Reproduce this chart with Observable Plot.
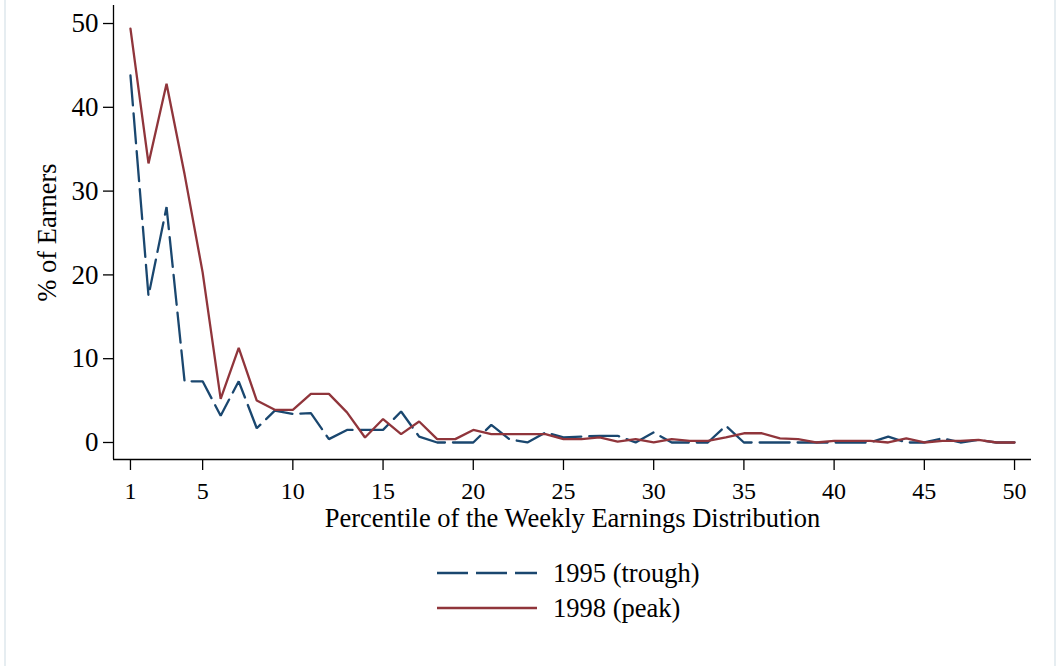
<!DOCTYPE html>
<html>
<head>
<meta charset="utf-8">
<script src="https://cdn.jsdelivr.net/npm/d3@7"></script>
<script src="https://cdn.jsdelivr.net/npm/@observablehq/plot@0.6"></script>
<style>
  html, body { margin: 0; padding: 0; background: #fff; }
  #wrap { position: relative; width: 1061px; height: 666px; overflow: hidden; background: #fff;
          font-family: "Liberation Serif", "Times New Roman", serif; color: #000; }
  #wrap svg.plot { position: absolute; left: 0; top: 0; }
  .edge { position: absolute; top: 0; bottom: 0; width: 2px; background: #e6edf1; }
  .leg { position: absolute; left: 437px; height: 30px; display: flex; align-items: center; }
  .leg span { margin-left: 16px; font-size: 26.5px; line-height: 30px; white-space: nowrap; }
</style>
</head>
<body>
<div id="wrap">
  <div class="edge" style="left:4px"></div>
  <div class="edge" style="left:1054px"></div>
</div>
<script>
// ---- data ----
const percentiles = [1,2,3,4,5,6,7,8,9,10,11,12,13,14,15,16,17,18,19,20,21,22,23,24,25,
                     26,27,28,29,30,31,32,33,34,35,36,37,38,39,40,41,42,43,44,45,46,47,48,49,50];
const trough1995 = [43.8,17.5,28.1,7.3,7.3,3.2,7.3,1.7,3.8,3.4,
                    3.5,0.4,1.5,1.5,1.5,3.7,0.7,0,0,0,
                    2.1,0.4,0,1.2,0.6,0.7,0.8,0.8,0,1.2,
                    0,0,0,2.0,0,0,0,0,0,0,
                    0,0,0.7,0,0,0.5,0,0.3,0,0];
const peak1998 = [49.4,33.3,42.8,32.0,20.3,5.2,11.3,5.0,3.9,3.9,
                  5.8,5.8,3.6,0.6,2.8,1.0,2.5,0.4,0.4,1.5,
                  1.0,1.0,1.0,1.0,0.4,0.4,0.6,0.1,0.4,0,
                  0.4,0.2,0.2,0.6,1.1,1.1,0.5,0.4,0,0.2,
                  0.2,0.2,0,0.5,0,0.2,0.2,0.3,0,0];
const seriesNames = ["1995 (trough)", "1998 (peak)"];
const xTicks = [1,5,10,15,20,25,30,35,40,45,50];
const yTicks = [0,10,20,30,40,50];
const xTitle = "Percentile of the Weekly Earnings Distribution";
const yTitle = "% of Earners";

// ---- styling ----
const colors = ["#1a476f", "#90353b"];
const dashes = ["30,8", null];
const xDom = [0.06, 50.94];
const yDom = [-2.03, 52.15];

const rows = percentiles.flatMap((p, i) => [
  {p, v: trough1995[i], s: seriesNames[0]},
  {p, v: peak1998[i], s: seriesNames[1]}
]);

const chart = Plot.plot({
  width: 1061,
  height: 540,
  marginLeft: 113,
  marginRight: 30,
  marginTop: 5,
  marginBottom: 81,
  style: {fontFamily: '"Liberation Serif", "Times New Roman", serif', fontSize: "24px", color: "#000", background: "transparent", overflow: "visible"},
  x: {domain: xDom},
  y: {domain: yDom},
  marks: [
    Plot.axisX({ticks: xTicks, tickSize: 11, tickPadding: 11, tickFormat: d => String(d), label: null, strokeWidth: 1.3, fontSize: 24}),
    Plot.axisY({ticks: yTicks, tickSize: 10, tickPadding: 5, tickFormat: d => String(d), label: null, strokeWidth: 1.3, fontSize: 27}),
    Plot.ruleX([xDom[0]], {stroke: "#000", strokeWidth: 1.3}),
    Plot.ruleY([yDom[0]], {stroke: "#000", strokeWidth: 1.3}),
    ...seriesNames.map((s, k) => Plot.line(rows.filter(d => d.s === s), {
      x: "p", y: "v", stroke: colors[k], strokeWidth: 2.3,
      strokeDasharray: dashes[k] ?? undefined, strokeLinejoin: "miter"
    })),
    Plot.text([xTitle], {frameAnchor: "bottom", dy: 59, text: d => d, fontSize: 26.5, lineAnchor: "middle", textAnchor: "middle"}),
    Plot.text([yTitle], {frameAnchor: "left", dx: -66, text: d => d, fontSize: 26.5, rotate: -90, lineAnchor: "middle", textAnchor: "middle"})
  ]
});
const wrap = document.getElementById("wrap");
wrap.appendChild(chart);

// ---- legend ----
const legTops = [558, 593];
seriesNames.forEach((s, k) => {
  const div = document.createElement("div");
  div.className = "leg";
  div.style.top = legTops[k] + "px";
  const ns = "http://www.w3.org/2000/svg";
  const sv = document.createElementNS(ns, "svg");
  sv.setAttribute("width", 100); sv.setAttribute("height", 30);
  const ln = document.createElementNS(ns, "line");
  ln.setAttribute("x1", 0); ln.setAttribute("x2", 100);
  ln.setAttribute("y1", 15); ln.setAttribute("y2", 15);
  ln.setAttribute("stroke", colors[k]); ln.setAttribute("stroke-width", 2.3);
  if (dashes[k]) ln.setAttribute("stroke-dasharray", "31,8");
  sv.appendChild(ln);
  div.appendChild(sv);
  const sp = document.createElement("span");
  sp.textContent = s;
  div.appendChild(sp);
  wrap.appendChild(div);
});
</script>
</body>
</html>
